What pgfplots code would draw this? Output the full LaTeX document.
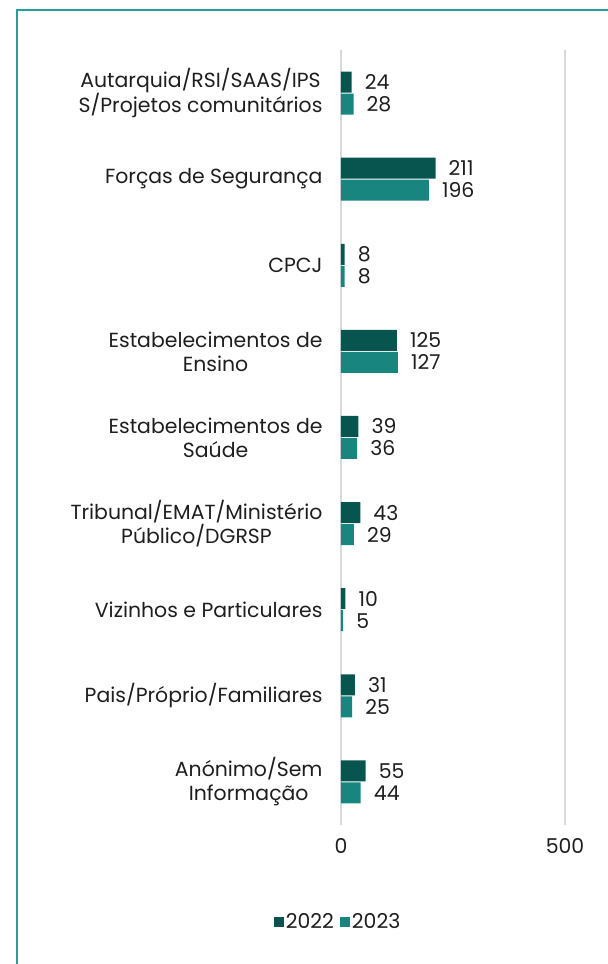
\documentclass[border=0pt]{standalone}
\usepackage{pgfplots}
\pgfplotsset{compat=1.18}
\usepackage{fontspec}
\setmainfont{Poppins}
\definecolor{c22}{RGB}{8,85,80}
\definecolor{c23}{RGB}{24,134,127}
\definecolor{framec}{RGB}{38,160,150}
\definecolor{gridc}{RGB}{217,217,217}
\definecolor{txt}{RGB}{30,30,30}
\begin{document}
\begin{tikzpicture}[x=1bp,y=1bp]
\useasboundingbox (-341,-139) rectangle (267,825);
\draw[framec, line width=1.5bp] (-324,-139) -- (-324,815) -- (267,815);
\begin{axis}[
  at={(0,0)}, anchor=south west,
  scale only axis, width=224bp, height=775bp,
  xmin=0, xmax=500, ymin=-0.5, ymax=8.5,
  enlargelimits=false, clip=false,
  xbar, bar width=21bp,
  axis line style={draw=none},
  major tick length=0pt,
  xtick={0,500},
  xmajorgrids, grid style={gridc, line width=1.5bp},
  ytick={0,1,2,3,4,5,6,7,8},
  yticklabels={{Anónimo/Sem\\Informação},{Pais/Próprio/Familiares},{Vizinhos e Particulares},{Tribunal/EMAT/Ministério\\Público/DGRSP},{Estabelecimentos de\\Saúde},{Estabelecimentos de\\Ensino},{CPCJ},{Forças de Segurança},{Autarquia/RSI/SAAS/IPS\\S/Projetos comunitários}},
  /pgf/number format/assume math mode=true,
  tick label style={font=\fontsize{20.5}{24}\selectfont, text=txt},
  yticklabel style={align=center, xshift=-15bp},
  xticklabel style={yshift=-10bp},
  nodes near coords,
  nodes near coords style={anchor=west, inner sep=0pt, xshift=13bp, font=\fontsize{20.5}{24}\selectfont, text=txt},
  legend style={draw=none, legend columns=2, at={(-0.013,-0.125)}, anchor=center, font=\fontsize{20.5}{24}\selectfont, text=txt, nodes={inner xsep=2bp}, /tikz/every odd column/.append style={column sep=0bp}, /tikz/every even column/.append style={column sep=4bp}},
  legend image code/.code={\fill[#1] (0bp,-5bp) rectangle (10bp,5bp);},
]
\addplot[fill=c22, draw=none, bar shift=11bp] coordinates {(24,8) (211,7) (8,6) (125,5) (39,4) (43,3) (10,2) (31,1) (55,0)};
\addplot[fill=c23, draw=none, bar shift=-11bp] coordinates {(28,8) (196,7) (8,6) (127,5) (36,4) (29,3) (5,2) (25,1) (44,0)};
\legend{2022,2023}
\end{axis}
\end{tikzpicture}
\end{document}
